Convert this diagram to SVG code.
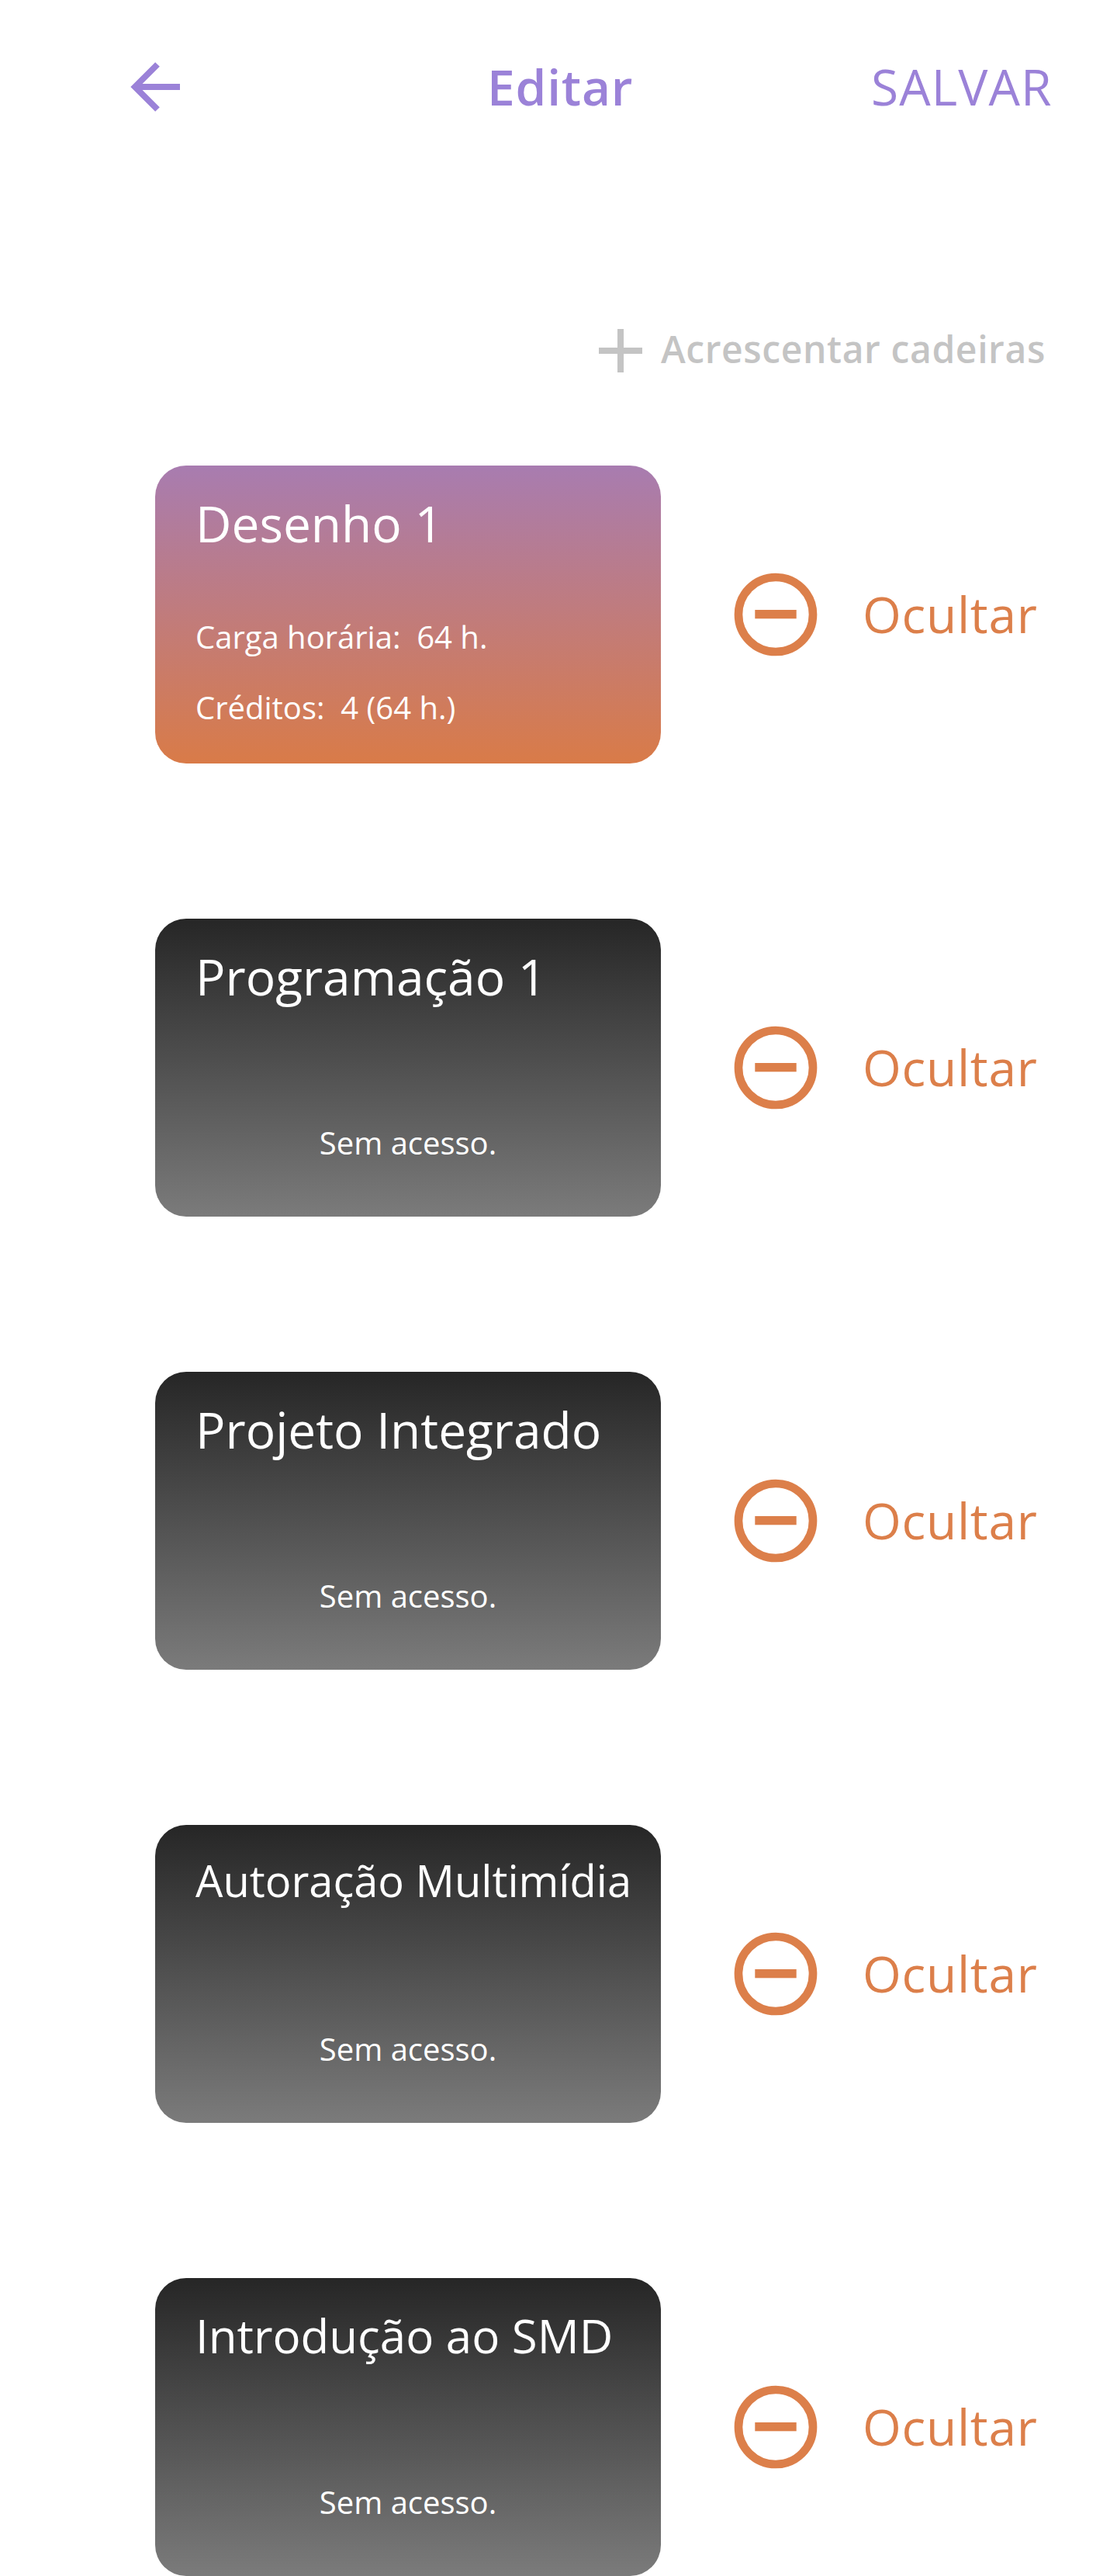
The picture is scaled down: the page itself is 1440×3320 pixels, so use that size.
<svg xmlns="http://www.w3.org/2000/svg" width="1440" height="3320" viewBox="0 0 1440 3320">
<defs>
<linearGradient id="gOrange" x1="0" y1="0" x2="0" y2="1"><stop offset="0" stop-color="#A87CB0"/><stop offset="1" stop-color="#D97B48"/></linearGradient>
<linearGradient id="gGray" x1="0" y1="0" x2="0" y2="1"><stop offset="0" stop-color="#262626"/><stop offset="1" stop-color="#7B7B7B"/></linearGradient>
<g id="hide"><circle cx="1000" cy="792" r="48" fill="none" stroke="#DC7F4A" stroke-width="10.67"/><rect x="973.3" y="786" width="53.4" height="11.3" fill="#DC7F4A"/><text x="1112" y="816" class="oc">Ocultar</text></g>
</defs>
<style>
text{font-family:"Open Sans","Noto Sans",sans-serif}
.t{font-size:64px;fill:#fff}
.s{font-size:40px;fill:#fff}
.m{font-size:40px;fill:#fff;text-anchor:middle}
.oc{font-size:64px;fill:#DC7F4A;letter-spacing:.75px}
.p{fill:#9B82D8;letter-spacing:.8px}
</style>
<rect width="1440" height="3320" fill="#fff"/>
<g id="header">
<path id="back" d="M203 83L174 112L203 141M174 112H232" fill="none" stroke="#9B82D8" stroke-width="8"/>
<text x="628" y="136" class="p" font-size="64" font-weight="600">Editar</text>
<text x="1123" y="136" class="p" font-size="64" style="letter-spacing:1.1px">SALVAR</text>
</g>
<g id="add">
<path d="M772 452H828M800 424V480" stroke="#C4C4C4" stroke-width="8" fill="none"/>
<text x="852" y="468" font-size="48" font-weight="600" fill="#C4C4C4" letter-spacing=".6">Acrescentar cadeiras</text>
</g>
<g id="card-desenho"><rect x="200" y="600" width="652" height="384" rx="40" fill="url(#gOrange)"/>
<text x="252" y="699" class="t">Desenho 1</text><text x="252" y="836" class="s" xml:space="preserve">Carga horária:  64 h.</text><text x="252" y="927" class="s" xml:space="preserve">Créditos:  4 (64 h.)</text></g>
<g id="hide-1"><use href="#hide"/></g>
<g id="card-programacao"><rect x="200" y="1184" width="652" height="384" rx="40" fill="url(#gGray)"/>
<text x="252" y="1283" class="t">Programação 1</text><text x="526" y="1488" class="m">Sem acesso.</text></g>
<g id="hide-2"><use href="#hide" y="584"/></g>
<g id="card-projeto"><rect x="200" y="1768" width="652" height="384" rx="40" fill="url(#gGray)"/>
<text x="252" y="1867" class="t">Projeto Integrado</text><text x="526" y="2072" class="m">Sem acesso.</text></g>
<g id="hide-3"><use href="#hide" y="1168"/></g>
<g id="card-autoracao"><rect x="200" y="2352" width="652" height="384" rx="40" fill="url(#gGray)"/>
<text x="252" y="2445" font-size="56" fill="#fff">Autoração Multimídia</text><text x="526" y="2656" class="m">Sem acesso.</text></g>
<g id="hide-4"><use href="#hide" y="1752"/></g>
<g id="card-introducao"><rect x="200" y="2936" width="652" height="384" rx="40" fill="url(#gGray)"/>
<text x="252" y="3033" font-size="60" fill="#fff">Introdução ao SMD</text><text x="526" y="3240" class="m">Sem acesso.</text></g>
<g id="hide-5"><use href="#hide" y="2336"/></g>
</svg>
